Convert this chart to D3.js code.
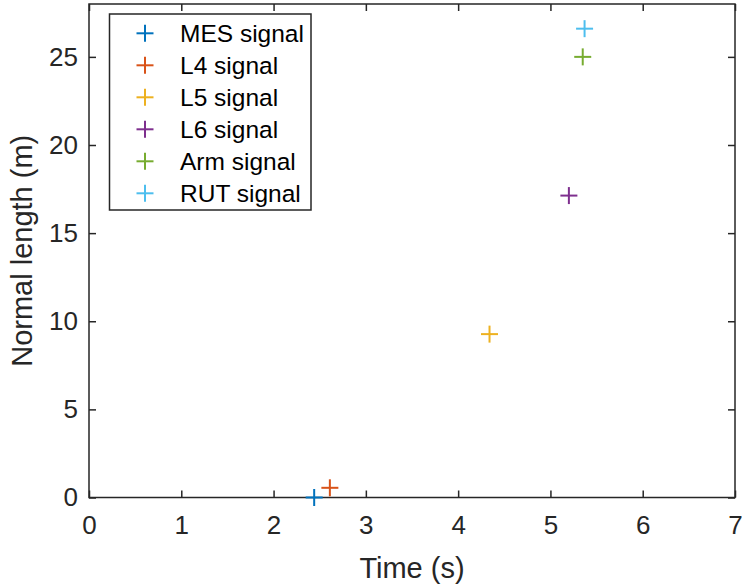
<!DOCTYPE html>
<html><head><meta charset="utf-8">
<script src="https://cdn.jsdelivr.net/npm/d3@7"></script>
<style>html,body{margin:0;padding:0;background:#fff;}svg{display:block;font-family:Arial,"Liberation Sans",sans-serif;}</style>
</head><body>
<svg id="c" width="742" height="586"></svg>
<script>
const seriesNames = ["MES signal","L4 signal","L5 signal","L6 signal","Arm signal","RUT signal"];
const timeValues = [2.44, 2.61, 4.34, 5.20, 5.35, 5.37];
const lengthValues = [0.0, 0.55, 9.27, 17.13, 25.0, 26.6];
const seriesColors = ["#0072BD","#D95319","#EDB120","#7E2F8E","#77AC30","#4DBEEE"];
const xTicks = [0,1,2,3,4,5,6,7];
const yTicks = [0,5,10,15,20,25];

const svg = d3.select("#c");
const L = 89, R = 735, T = 4, B = 497.5;
const x = d3.scaleLinear().domain([0,7]).range([L,R]);
const y = d3.scaleLinear().domain([0,28]).range([B,T]);
const axCol = "#262626";

// frame
svg.append("rect").attr("x",L).attr("y",T).attr("width",R-L).attr("height",B-T)
  .attr("fill","none").attr("stroke",axCol).attr("stroke-width",1.5);

const tl = 7;
const xb = svg.append("g").attr("transform",`translate(0,${B})`)
  .call(d3.axisBottom(x).tickValues(xTicks).tickFormat(d3.format("d")).tickSizeInner(-tl).tickSizeOuter(0).tickPadding(18));
const xt = svg.append("g").attr("transform",`translate(0,${T})`)
  .call(d3.axisTop(x).tickValues(xTicks).tickFormat("").tickSizeInner(-tl).tickSizeOuter(0));
const yl = svg.append("g").attr("transform",`translate(${L},0)`)
  .call(d3.axisLeft(y).tickValues(yTicks).tickFormat(d3.format("d")).tickSizeInner(-tl).tickSizeOuter(0).tickPadding(11));
const yr = svg.append("g").attr("transform",`translate(${R},0)`)
  .call(d3.axisRight(y).tickValues(yTicks).tickFormat("").tickSizeInner(-tl).tickSizeOuter(0));
[xb,xt,yl,yr].forEach(g=>{
  g.select(".domain").remove();
  g.selectAll(".tick line").attr("stroke",axCol).attr("stroke-width",1.5);
  g.selectAll(".tick text").attr("fill",axCol).style("font-size","26px").style("font-family","Arial,'Liberation Sans',sans-serif");
});
xb.selectAll(".tick text").attr("dy","0.71em");

// axis labels
svg.append("text").attr("x",(L+R)/2).attr("y",578).attr("text-anchor","middle")
  .attr("fill",axCol).style("font-size","29px").text("Time (s)");
svg.append("text").attr("transform",`translate(32,${(T+B)/2}) rotate(-90)`).attr("text-anchor","middle")
  .attr("fill",axCol).style("font-size","29px").text("Normal length (m)");

// markers
const ms = 8.5;
function plus(g, cx, cy, col){
  g.append("line").attr("x1",cx-ms).attr("x2",cx+ms).attr("y1",cy).attr("y2",cy).attr("stroke",col).attr("stroke-width",2);
  g.append("line").attr("x1",cx).attr("x2",cx).attr("y1",cy-ms).attr("y2",cy+ms).attr("stroke",col).attr("stroke-width",2);
}
const mg = svg.append("g");
seriesNames.forEach((n,i)=> plus(mg, x(timeValues[i]), y(lengthValues[i]), seriesColors[i]));

// legend
const lg = svg.append("g");
lg.append("rect").attr("x",109.5).attr("y",14).attr("width",201.5).attr("height",196)
  .attr("fill","#fff").attr("stroke",axCol).attr("stroke-width",1.5);
seriesNames.forEach((n,i)=>{
  const cy = 33.3 + i*32;
  plus(lg, 145, cy, seriesColors[i]);
  lg.append("text").attr("x",180).attr("y",cy).attr("dy","0.35em").attr("fill","#000")
    .style("font-size","24.5px").text(n);
});
</script>
</body></html>
